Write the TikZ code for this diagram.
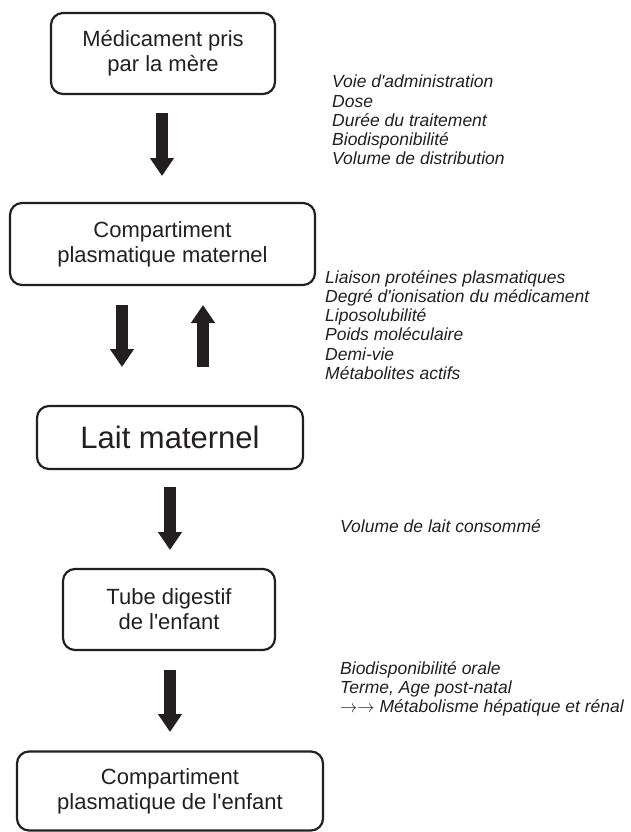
\documentclass[tikz,border=0pt]{standalone}
\usepackage{fontspec}
\setmainfont{Liberation Sans}[Ligatures=TeXOff]
\usetikzlibrary{arrows.meta}
\definecolor{ink}{RGB}{35,31,32}

\tikzset{
    etape/.style={draw=ink, line width=2.2pt, rounded corners=12pt, align=center,
        text=ink, inner sep=0pt, font=\fontsize{22}{25}\selectfont},
    fleche/.style={draw=ink, line width=11.5pt, -{Triangle[width=23pt,length=18pt]}},
    facteur/.style={anchor=base west, inner sep=0pt, text=ink,
        font=\fontsize{17.5}{19}\selectfont\itshape},
}

\begin{document}
\begin{tikzpicture}[x=1pt, y=-1pt]
    \useasboundingbox (0,0) rectangle (631,832);

    % Boxes of the chain
    \node[etape, minimum width=224pt, minimum height=81pt] (medicament) at (163,53.5) {Médicament pris\\par la mère};
    \node[etape, minimum width=305pt, minimum height=82pt] (plasmaMere) at (162.5,244) {Compartiment\\plasmatique maternel};
    \node[etape, minimum width=266pt, minimum height=63pt, font=\fontsize{31}{36}\selectfont] (lait) at (170,437.5) {Lait maternel};
    \node[etape, minimum width=212pt, minimum height=81pt] (tube) at (169,609.5) {Tube digestif\\de l'enfant};
    \node[etape, minimum width=306pt, minimum height=79pt] (plasmaEnfant) at (170,791) {Compartiment\\plasmatique de l'enfant};

    % Ends of the arrows
    \coordinate (depart1) at (162,113);
    \coordinate (arrivee1) at (162,176);
    \coordinate (depart2) at (122,305);
    \coordinate (arrivee2) at (122,367);
    \coordinate (depart3) at (203,367);
    \coordinate (arrivee3) at (203,305);
    \coordinate (depart4) at (170,487);
    \coordinate (arrivee4) at (170,550);
    \coordinate (depart5) at (170,670);
    \coordinate (arrivee5) at (170,732);

    % Draw arrows
    \foreach \i in {1,...,5} {
        \draw[fleche] (depart\i) -- (arrivee\i);
    }

    % Factors
    \foreach \txt [count=\i] in {Voie d'administration, Dose, Durée du traitement, Biodisponibilité, Volume de distribution} {
        \node[facteur] (mere\i) at (332,{88+19.1*(\i-1)}) {\txt};
    }
    \foreach \txt [count=\i] in {Liaison protéines plasmatiques, Degré d'ionisation du médicament, Liposolubilité, Poids moléculaire, Demi-vie, Métabolites actifs} {
        \node[facteur] (passage\i) at (325,{283.3+19.2*(\i-1)}) {\txt};
    }
    \node[facteur] (volume) at (340,532) {Volume de lait consommé};
    \foreach \txt [count=\i] in {Biodisponibilité orale, {Terme, Age post-natal}, {$\rightarrow\rightarrow$ Métabolisme hépatique et rénal}} {
        \node[facteur] (enfant\i) at (340,{674+19*(\i-1)}) {\txt};
    }
\end{tikzpicture}
\end{document}
